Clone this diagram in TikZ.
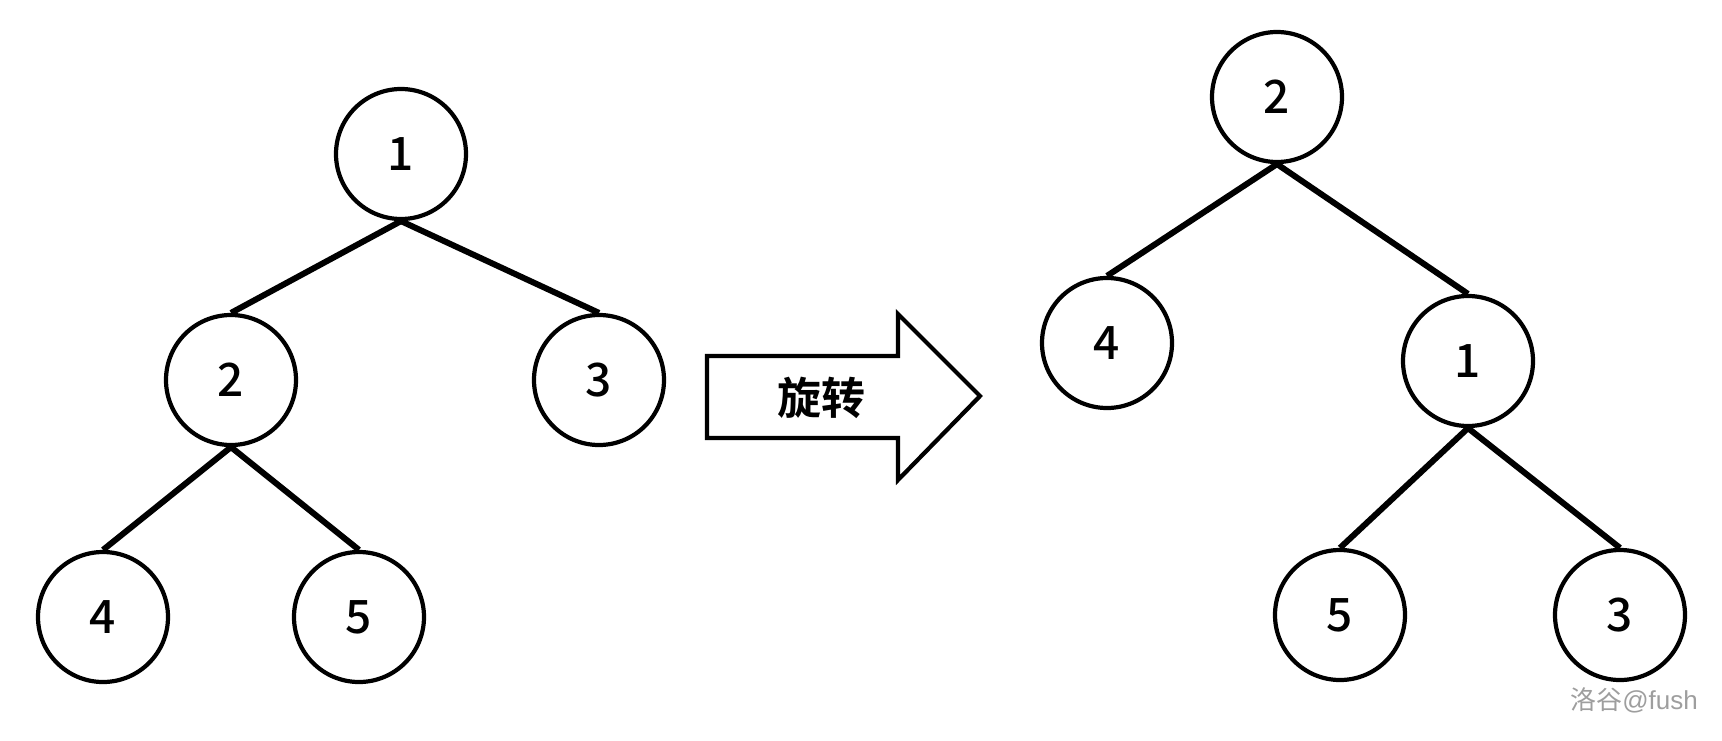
\documentclass[tikz,border=0pt]{standalone}
\usepackage{fontspec}
\setmainfont{Noto Sans CJK SC}
\newfontfamily\cjkbold{Noto Sans CJK SC Bold}
\newfontfamily\cjkmed{Noto Sans CJK SC Medium}
\newfontfamily\wmfont{Liberation Sans}
\begin{document}
\begin{tikzpicture}[x=1pt,y=-1pt,
  tn/.style={circle,draw,line width=4.2pt,minimum size=130pt,inner sep=0pt,font=\cjkmed\fontsize{46}{46}\selectfont},
  edge/.style={line width=6pt}]
\useasboundingbox (0,0) rectangle (1722,740);
% left tree
\node[tn] (a1) at (401,154) {1};
\node[tn] (a2) at (231,380) {2};
\node[tn] (a3) at (599,380) {3};
\node[tn] (a4) at (103,617) {4};
\node[tn] (a5) at (359,617) {5};
\draw[edge] (a1.south) -- (a2.north);
\draw[edge] (a1.south) -- (a3.north);
\draw[edge] (a2.south) -- (a4.north);
\draw[edge] (a2.south) -- (a5.north);
% arrow
\draw[line width=4.2pt,line join=miter] (707,356) -- (898,356) -- (898,314) -- (980,396) -- (898,480) -- (898,438) -- (707,438) -- cycle;
\node[font=\cjkbold\fontsize{44}{44}\selectfont] (lbl) at (821,398) {旋转};
% right tree
\node[tn] (b2) at (1277,97) {2};
\node[tn] (b4) at (1107,343) {4};
\node[tn] (b1) at (1468,361) {1};
\node[tn] (b5) at (1340,615) {5};
\node[tn] (b3) at (1620,615) {3};
\draw[edge] (b2.south) -- (b4.north);
\draw[edge] (b2.south) -- (b1.north);
\draw[edge] (b1.south) -- (b5.north);
\draw[edge] (b1.south) -- (b3.north);
% watermark
\node[anchor=east,text=black!38,font=\fontsize{26}{26}\selectfont,inner sep=0pt] (wm) at (1698,700) {洛谷{\wmfont @fush}};
\end{tikzpicture}
\end{document}
